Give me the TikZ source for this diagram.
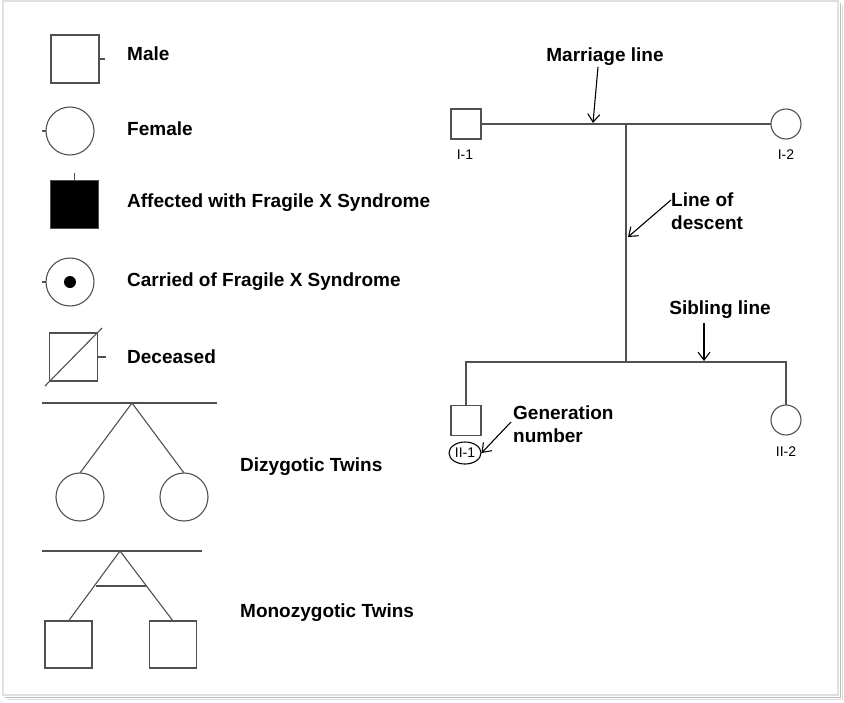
\documentclass[tikz,border=0pt]{standalone}
\usepackage{fontspec}
\setmainfont{Liberation Sans}
\usetikzlibrary{arrows.meta,shapes.geometric}
\definecolor{ln}{HTML}{505050}
\tikzset{
  x=1pt, y=-1pt,
  sym/.style={draw=ln, line width=1.1pt, inner sep=0pt, outer sep=0pt},
  bigsq/.style={sym, rectangle, minimum size=48pt},
  bigci/.style={sym, circle, minimum size=48pt},
  smsq/.style={sym, rectangle, minimum size=30pt},
  smci/.style={sym, circle, minimum size=30pt},
  lbl/.style={font=\bfseries\fontsize{19}{23}\selectfont, anchor=west, inner sep=0pt},
  note/.style={font=\bfseries\fontsize{19}{23.5}\selectfont, align=left, inner sep=0pt},
  gen/.style={font=\fontsize{14}{16}\selectfont, inner sep=0pt},
  ln/.style={draw=ln, line width=1.1pt},
  arr/.style={draw=black, line width=1.1pt, -{Straight Barb[length=8pt,width=12pt]}},
}
\begin{document}
\begin{tikzpicture}
\useasboundingbox (0,0) rectangle (844,702);
% frame with shadow
\fill[white] (0,0) rectangle (844,702);
\draw[black!12, line width=1.5pt] (3,1) rectangle (838,695);
\draw[black!25, line width=1pt] (840,3) -- (840,697) -- (5,697);
\draw[black!12, line width=1pt] (842,5) -- (842,699) -- (7,699);

% ---------- legend ----------
\node[bigsq] (male) at (75,59) {};
\draw[ln] (male.east) -- ++(6,0);
\node[lbl] (tmale) at (127,54) {Male};

\node[bigci] (fem) at (70,131) {};
\draw[ln] (fem.west) -- ++(-4,0);
\node[lbl] (tfem) at (127,129) {Female};

\node[bigsq, fill=black] (aff) at (74.5,204.5) {};
\draw[ln] (aff.north) -- ++(0,-8);
\node[lbl] (taff) at (127,203) {Affected with Fragile X Syndrome};

\node[bigci] (car) at (70,282) {};
\fill[black] (car.center) circle (6);
\draw[ln] (car.west) -- ++(-4,0);
\node[lbl] (tcar) at (127,282) {Carried of Fragile X Syndrome};

\node[bigsq] (dec) at (73.5,357) {};
\draw[ln] (45,386) -- (102,328);
\draw[ln] (dec.east) -- ++(8,0);
\node[lbl] (tdec) at (127,357) {Deceased};

% dizygotic
\coordinate (dzl) at (42,403);
\coordinate (dzr) at (217,403);
\coordinate (dza) at (132,403);
\draw[ln] (dzl) -- (dzr);
\node[bigci] (dz1) at (80,497) {};
\node[bigci] (dz2) at (184,497) {};
\draw[ln] (dz1.north) -- (dza) -- (dz2.north);
\node[lbl] (tdz) at (240,467) {Dizygotic Twins};

% monozygotic
\coordinate (mzl) at (42,551);
\coordinate (mzr) at (202,551);
\coordinate (mza) at (120,551);
\draw[ln] (mzl) -- (mzr);
\node[sym, rectangle, minimum size=47pt] (mz1) at (68.5,644.5) {};
\node[sym, rectangle, minimum size=47pt] (mz2) at (173,644.5) {};
\draw[ln] (mz1.north) -- (mza) -- (mz2.north);
\draw[ln] (96,586) -- (146,586);
\node[lbl] (tmz) at (240,613) {Monozygotic Twins};

% ---------- pedigree ----------
\node[smsq] (i1) at (466,124) {};
\node[smci] (i2) at (786,124) {};
\draw[ln] (i1.east) -- (i2.west);
\node[gen] (li1) at (465,155) {I-1};
\node[gen] (li2) at (786,155) {I-2};

\coordinate (m) at (626,124);
\coordinate (s) at (626,362);
\draw[ln] (m) -- (s);

\node[smsq] (ii1) at (466,420.5) {};
\node[smci] (ii2) at (786,420) {};
\draw[ln] (ii1.north) |- (s) -| (ii2.north);

\node[gen, draw=black, line width=1.1pt, ellipse, inner sep=0pt, minimum width=32pt, minimum height=22pt] (lii1) at (465,453) {II-1};
\node[gen] (lii2) at (786,452) {II-2};

% annotations
\node[note, anchor=center] (tmar) at (605,57) {Marriage line};
\coordinate (amar) at (593,123);
\draw[arr] (598,67) -- (amar);

\node[note, anchor=west] (tdes) at (671,211) {Line of\\descent};
\coordinate (ades) at (628,237);
\draw[arr] (671,200) -- (ades);

\node[note, anchor=center] (tsib) at (720,310) {Sibling line};
\coordinate (asib) at (704,361);
\draw[arr] (704,323) -- (asib);

\node[note, anchor=west] (tgen) at (513,424) {Generation\\number};
\draw[arr] (511,422) -- (lii1.east);
\end{tikzpicture}
\end{document}
